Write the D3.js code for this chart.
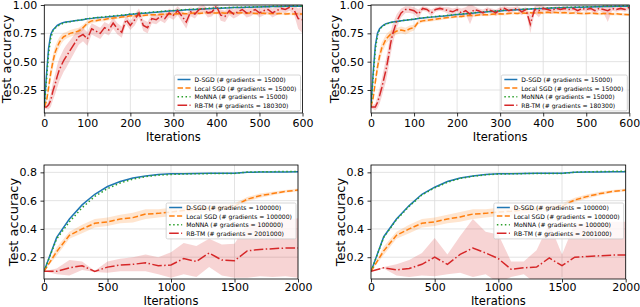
<!DOCTYPE html>
<html>
<head>
<meta charset="utf-8">
<script src="https://cdn.jsdelivr.net/npm/d3@7"></script>
<style>
  body { margin: 0; background: #fff; }
  text { font-family: "DejaVu Sans", sans-serif; }
</style>
</head>
<body>
<svg id="chart" width="640" height="307"></svg>
<script>
// ---- data ----
const seriesNames = ["D-SGD", "Local SGD", "MoNNA", "RB-TM"];
const topGradients = ["15000", "15000", "15000", "180300"];
const botGradients = ["100000", "100000", "100000", "2001000"];

const topIters = [0,5,10,15,20,25,30,35,40,45,50,
  60,70,80,90,100,110,120,130,140,150,160,
  170,180,190,200,210,220,230,240,250,260,270,
  280,290,300,310,320,330,340,350,360,370,380,
  390,400,410,420,430,440,450,460,470,480,490,
  500,510,520,530,540,550,560,570,580,590,600];

// top-left panel
const tlDsgd = [0.10,0.38,0.62,0.74,0.78,0.80,0.82,0.83,0.84,0.845,0.85,
  0.855,0.86,0.865,0.87,0.878,0.882,0.887,0.89,0.893,0.897,0.90,
  0.904,0.908,0.912,0.918,0.92,0.924,0.927,0.93,0.934,0.937,0.94,
  0.943,0.946,0.95,0.952,0.954,0.957,0.959,0.961,0.963,0.965,0.967,
  0.969,0.971,0.972,0.974,0.975,0.977,0.978,0.979,0.98,0.981,0.982,
  0.983,0.984,0.985,0.986,0.986,0.987,0.988,0.988,0.989,0.99,0.99];
const tlMonna = [0.10,0.33,0.57,0.71,0.77,0.795,0.81,0.822,0.832,0.84,0.846,
  0.853,0.86,0.866,0.872,0.879,0.884,0.889,0.892,0.896,0.9,0.903,
  0.907,0.911,0.915,0.92,0.923,0.927,0.93,0.933,0.937,0.94,0.943,
  0.946,0.949,0.952,0.955,0.957,0.96,0.962,0.964,0.966,0.968,0.97,
  0.972,0.973,0.975,0.976,0.978,0.979,0.98,0.981,0.982,0.983,0.984,
  0.985,0.986,0.987,0.988,0.988,0.989,0.99,0.99,0.991,0.992,0.992];
const tlLocal = [0.10,0.15,0.27,0.40,0.50,0.58,0.63,0.67,0.70,0.72,0.73,
  0.75,0.76,0.77,0.80,0.84,0.86,0.862,0.87,0.872,0.88,0.885,
  0.888,0.895,0.898,0.905,0.903,0.91,0.908,0.912,0.915,0.913,0.917,
  0.92,0.918,0.92,0.923,0.925,0.922,0.927,0.93,0.926,0.93,0.932,
  0.929,0.93,0.933,0.928,0.931,0.927,0.93,0.932,0.927,0.93,0.925,
  0.926,0.928,0.924,0.925,0.923,0.925,0.921,0.923,0.92,0.922,0.92];
const tlLocalStd = [0,0.03,0.05,0.06,0.06,0.055,0.05,0.045,0.04,0.035,0.03,
  0.03,0.03,0.03,0.025,0.02,0.018,0.015,0.015,0.015,0.015,0.015,
  0.012,0.012,0.012,0.012,0.012,0.012,0.012,0.012,0.012,0.012,0.012,
  0.012,0.012,0.012,0.012,0.012,0.012,0.012,0.012,0.012,0.012,0.012,
  0.012,0.012,0.012,0.012,0.012,0.012,0.012,0.012,0.012,0.012,0.012,
  0.012,0.012,0.012,0.012,0.012,0.012,0.012,0.012,0.012,0.012,0.012];
const tlRbtm = [0.10,0.10,0.12,0.16,0.24,0.30,0.37,0.43,0.47,0.51,0.54,
  0.60,0.66,0.72,0.74,0.70,0.79,0.77,0.75,0.80,0.78,0.84,
  0.79,0.76,0.87,0.82,0.87,0.93,0.82,0.80,0.88,0.87,0.90,
  0.88,0.93,0.91,0.95,0.90,0.85,0.94,0.92,0.96,0.97,0.93,
  0.94,0.99,0.91,0.90,0.95,0.92,0.94,0.96,0.93,0.94,0.96,
  0.93,0.95,0.96,0.93,0.95,0.97,0.96,0.98,0.96,0.88,0.87];
const tlRbtmStd = [0.01,0.02,0.04,0.06,0.08,0.09,0.10,0.10,0.10,0.10,0.10,
  0.09,0.08,0.07,0.06,0.06,0.05,0.05,0.05,0.05,0.05,0.05,
  0.05,0.05,0.04,0.04,0.05,0.04,0.05,0.05,0.04,0.04,0.04,
  0.04,0.04,0.04,0.04,0.05,0.06,0.04,0.04,0.03,0.03,0.04,
  0.04,0.03,0.05,0.05,0.04,0.04,0.04,0.03,0.04,0.04,0.03,
  0.04,0.04,0.03,0.04,0.04,0.03,0.03,0.03,0.04,0.09,0.12];

// top-right panel
const trDsgd = [0.10,0.40,0.64,0.75,0.79,0.81,0.825,0.835,0.84,0.845,0.85,
  0.855,0.86,0.865,0.87,0.875,0.88,0.885,0.89,0.893,0.896,0.90,
  0.903,0.907,0.911,0.916,0.919,0.922,0.926,0.93,0.933,0.936,0.94,
  0.942,0.945,0.948,0.951,0.953,0.956,0.958,0.96,0.962,0.964,0.966,
  0.968,0.97,0.971,0.973,0.974,0.976,0.977,0.978,0.979,0.98,0.981,
  0.982,0.983,0.984,0.985,0.986,0.986,0.987,0.988,0.988,0.989,0.99];
const trMonna = [0.10,0.36,0.60,0.73,0.78,0.805,0.82,0.83,0.838,0.843,0.848,
  0.854,0.86,0.866,0.871,0.877,0.882,0.887,0.891,0.895,0.898,0.902,
  0.905,0.909,0.913,0.918,0.921,0.925,0.928,0.932,0.935,0.938,0.942,
  0.944,0.947,0.95,0.953,0.955,0.958,0.96,0.962,0.964,0.966,0.968,
  0.97,0.972,0.973,0.975,0.976,0.978,0.979,0.98,0.981,0.982,0.983,
  0.984,0.985,0.986,0.987,0.988,0.988,0.989,0.99,0.99,0.991,0.992];
const trLocal = [0.10,0.18,0.32,0.45,0.55,0.62,0.66,0.70,0.72,0.74,0.75,
  0.77,0.78,0.77,0.79,0.80,0.85,0.86,0.865,0.87,0.875,0.88,
  0.885,0.89,0.893,0.90,0.898,0.905,0.91,0.907,0.912,0.915,0.913,
  0.918,0.92,0.922,0.92,0.925,0.928,0.926,0.93,0.928,0.932,0.93,
  0.933,0.93,0.935,0.932,0.934,0.93,0.933,0.928,0.93,0.927,0.925,
  0.925,0.928,0.925,0.922,0.924,0.925,0.92,0.922,0.918,0.917,0.915];
const trLocalStd = [0,0.03,0.05,0.06,0.06,0.05,0.045,0.04,0.04,0.035,0.03,
  0.03,0.03,0.03,0.03,0.025,0.02,0.015,0.015,0.015,0.015,0.015,
  0.012,0.012,0.012,0.012,0.012,0.012,0.012,0.012,0.012,0.012,0.012,
  0.012,0.012,0.012,0.012,0.012,0.012,0.012,0.012,0.012,0.012,0.012,
  0.012,0.012,0.012,0.012,0.012,0.012,0.012,0.012,0.012,0.012,0.012,
  0.012,0.012,0.012,0.012,0.012,0.012,0.012,0.012,0.012,0.012,0.012];
const trRbtm = [0.10,0.10,0.10,0.14,0.20,0.27,0.35,0.43,0.53,0.65,0.74,
  0.86,0.93,0.96,0.96,0.95,0.92,0.97,0.96,0.93,0.96,0.97,
  0.96,0.95,0.94,0.96,0.93,0.95,0.92,0.96,0.95,0.93,0.96,
  0.95,0.93,0.96,0.97,0.95,0.96,0.97,0.94,0.96,0.83,0.96,
  0.95,0.97,0.96,0.95,0.97,0.96,0.97,0.96,0.97,0.95,0.97,
  0.96,0.97,0.95,0.97,0.96,0.95,0.97,0.96,0.97,0.96,0.98];
const trRbtmStd = [0.01,0.02,0.03,0.05,0.07,0.08,0.09,0.10,0.10,0.10,0.09,
  0.06,0.04,0.03,0.03,0.03,0.04,0.02,0.02,0.03,0.02,0.02,
  0.02,0.03,0.03,0.02,0.04,0.03,0.09,0.03,0.02,0.03,0.02,
  0.02,0.03,0.02,0.02,0.03,0.02,0.02,0.03,0.02,0.08,0.03,
  0.06,0.02,0.02,0.03,0.02,0.02,0.02,0.02,0.02,0.03,0.02,
  0.02,0.02,0.03,0.02,0.03,0.10,0.02,0.02,0.02,0.02,0.02];

// bottom panels
const botIters = [0,100,200,300,400,500,600,700,800,900,1000,
  1100,1200,1300,1400,1500,1600,1700,1800,1900,2000];

const blDsgd = [0.10,0.34,0.47,0.57,0.645,0.70,0.735,0.76,0.775,0.785,0.79,0.79,0.792,0.793,0.793,0.793,0.80,0.802,0.803,0.803,0.804];
const blMonna = [0.10,0.33,0.45,0.55,0.63,0.685,0.725,0.752,0.77,0.78,0.785,0.788,0.79,0.791,0.792,0.792,0.802,0.804,0.805,0.806,0.806];
const blLocal = [0.10,0.24,0.355,0.40,0.44,0.45,0.47,0.48,0.505,0.51,0.52,0.53,0.54,0.545,0.55,0.56,0.61,0.635,0.65,0.665,0.675];
const blLocalStd = [0,0.03,0.025,0.03,0.03,0.03,0.03,0.035,0.035,0.03,0.03,0.03,0.025,0.025,0.02,0.02,0.015,0.015,0.012,0.01,0.01];
const blRbtm = [0.10,0.10,0.125,0.14,0.10,0.13,0.145,0.15,0.16,0.14,0.145,0.19,0.17,0.23,0.18,0.175,0.245,0.255,0.26,0.265,0.265];
const blRbtmStd = [0,0.02,0.055,0.03,0.005,0.04,0.045,0.05,0.06,0.06,0.09,0.11,0.11,0.1,0.11,0.12,0.19,0.19,0.2,0.2,0.21];

const brDsgd = [0.10,0.345,0.47,0.565,0.645,0.695,0.735,0.76,0.775,0.785,0.79,0.79,0.792,0.793,0.793,0.793,0.80,0.802,0.803,0.804,0.805];
const brMonna = [0.10,0.34,0.465,0.56,0.64,0.69,0.73,0.757,0.772,0.783,0.788,0.79,0.791,0.792,0.792,0.792,0.801,0.804,0.806,0.807,0.808];
const brLocal = [0.10,0.245,0.355,0.40,0.44,0.45,0.47,0.485,0.505,0.51,0.52,0.525,0.535,0.54,0.55,0.56,0.605,0.63,0.65,0.665,0.675];
const brLocalStd = [0,0.03,0.025,0.03,0.03,0.03,0.03,0.035,0.035,0.03,0.03,0.03,0.025,0.025,0.02,0.02,0.015,0.015,0.012,0.01,0.01];
const brRbtm = [0.10,0.125,0.11,0.12,0.15,0.20,0.15,0.22,0.265,0.23,0.19,0.115,0.125,0.13,0.195,0.14,0.2,0.205,0.21,0.215,0.215];
const brRbtmStd = [0,0.005,0.04,0.06,0.08,0.135,0.07,0.13,0.205,0.15,0.17,0.055,0.045,0.12,0.245,0.08,0.24,0.235,0.23,0.235,0.235];

const topXTicks = [0,100,200,300,400,500,600];
const topYTicks = [0.25,0.5,0.75,1.0];
const botXTicks = [0,500,1000,1500,2000];
const botYTicks = [0.2,0.4,0.6,0.8];

// ---- styles ----
const colors = ["#1f77b4", "#ff7f0e", "#2ca02c", "#d62728"];
const dashes = [null, "5.5,2.4", "1.5,2.5", "9.6,2.4,1.5,2.4"];

const svg = d3.select("#chart");

function drawPanel(p) {
  const x = d3.scaleLinear().domain(p.xDomain).range([p.left, p.right]);
  const y = d3.scaleLinear().domain(p.yDomain).range([p.bottom, p.top]);
  const g = svg.append("g");

  // grid
  g.append("g").selectAll("line").data(p.xTicks).join("line")
    .attr("x1", d => x(d)).attr("x2", d => x(d))
    .attr("y1", p.top).attr("y2", p.bottom)
    .attr("stroke", "#dcdcdc").attr("stroke-width", 0.8);
  g.append("g").selectAll("line").data(p.yTicks).join("line")
    .attr("x1", p.left).attr("x2", p.right)
    .attr("y1", d => y(d)).attr("y2", d => y(d))
    .attr("stroke", "#dcdcdc").attr("stroke-width", 0.8);

  const clipId = "clip" + p.id;
  svg.append("clipPath").attr("id", clipId).append("rect")
    .attr("x", p.left).attr("y", p.top)
    .attr("width", p.right - p.left).attr("height", p.bottom - p.top);
  const plot = g.append("g").attr("clip-path", `url(#${clipId})`);

  // shaded bands (mean +/- spread)
  p.series.forEach((s, i) => {
    if (!s.std) return;
    const area = d3.area()
      .x((d, j) => x(p.iters[j]))
      .y0((d, j) => y(s.values[j] - s.std[j]))
      .y1((d, j) => y(s.values[j] + s.std[j]));
    plot.append("path").datum(s.values)
      .attr("d", area)
      .attr("fill", colors[i]).attr("fill-opacity", 0.2);
  });

  // lines
  p.series.forEach((s, i) => {
    const line = d3.line()
      .x((d, j) => x(p.iters[j]))
      .y(d => y(d));
    plot.append("path").datum(s.values)
      .attr("d", line)
      .attr("fill", "none")
      .attr("stroke", colors[i])
      .attr("stroke-width", 1.5)
      .attr("stroke-dasharray", dashes[i]);
  });

  // axes
  const xAxis = g.append("g")
    .attr("transform", `translate(0,${p.bottom})`)
    .call(d3.axisBottom(x).tickValues(p.xTicks).tickSize(3.5).tickPadding(p.xTickPad).tickFormat(d3.format("d")));
  const yAxis = g.append("g")
    .attr("transform", `translate(${p.left},0)`)
    .call(d3.axisLeft(y).tickValues(p.yTicks).tickSize(3.5).tickPadding(3.5).tickFormat(d3.format(p.yFormat)));
  [xAxis, yAxis].forEach(a => {
    a.select(".domain").remove();
    a.selectAll(".tick line").attr("stroke", "#000").attr("stroke-width", 0.8);
    a.selectAll(".tick text").attr("font-size", 11).attr("fill", "#000")
      .style("font-family", "'DejaVu Sans', sans-serif");
  });

  // spines
  g.append("rect")
    .attr("x", p.left).attr("y", p.top)
    .attr("width", p.right - p.left).attr("height", p.bottom - p.top)
    .attr("fill", "none").attr("stroke", "#000").attr("stroke-width", 0.8);

  // axis labels
  g.append("text")
    .attr("x", (p.left + p.right) / 2).attr("y", p.bottom + p.xLabelGap)
    .attr("text-anchor", "middle").attr("font-size", 11.5)
    .text("Iterations");
  g.append("text")
    .attr("transform", `translate(${p.left - p.yLabelGap},${(p.top + p.bottom) / 2}) rotate(-90)`)
    .attr("text-anchor", "middle").attr("dominant-baseline", "central")
    .attr("font-size", 13)
    .text("Test accuracy");

  // legend
  const lg = g.append("g");
  const box = lg.append("rect");
  const rowH = 8.6;
  const items = lg.selectAll("g.item").data(p.series).join("g")
    .attr("class", "item");
  items.append("line")
    .attr("x1", 0).attr("x2", 13).attr("y1", 0).attr("y2", 0)
    .attr("stroke", (d, i) => colors[i]).attr("stroke-width", 1.5)
    .attr("stroke-dasharray", (d, i) => dashes[i]);
  const texts = items.append("text")
    .attr("x", 17).attr("dominant-baseline", "central")
    .attr("font-size", 6.1)
    .text(d => d.label);
  const maxW = d3.max(texts.nodes(), n => n.getComputedTextLength());
  const boxW = 17 + maxW + 7;
  const boxRight = p.right - 2;
  const boxLeft = boxRight - boxW;
  items.attr("transform", (d, i) => `translate(${boxLeft + 3},${p.legendTop + 4.5 + i * rowH})`);
  box.attr("x", boxLeft).attr("y", p.legendTop)
    .attr("width", boxW).attr("height", 4 * rowH + 1.5)
    .attr("rx", 1.5)
    .attr("fill", "#fff").attr("fill-opacity", 0.8)
    .attr("stroke", "#ccc").attr("stroke-width", 0.8);
}

function makeSeries(vals, stds, grads) {
  return seriesNames.map((n, i) => ({
    label: `${n} (# gradients = ${grads[i]})`,
    values: vals[i],
    std: stds[i]
  }));
}

drawPanel({
  id: "tl", left: 44.3, right: 302.5, top: 5, bottom: 113,
  xDomain: [0, 600], yDomain: [0.047, 1.0],
  xTicks: topXTicks, yTicks: topYTicks, yFormat: ".2f", yLabelGap: 37.5,
  xTickPad: 2.5, xLabelGap: 27.5,
  iters: topIters, legendTop: 75,
  series: makeSeries([tlDsgd, tlLocal, tlMonna, tlRbtm], [null, tlLocalStd, null, tlRbtmStd], topGradients)
});
drawPanel({
  id: "tr", left: 371, right: 629.3, top: 5, bottom: 113,
  xDomain: [0, 600], yDomain: [0.047, 1.0],
  xTicks: topXTicks, yTicks: topYTicks, yFormat: ".2f", yLabelGap: 37,
  xTickPad: 2.5, xLabelGap: 27.5,
  iters: topIters, legendTop: 75,
  series: makeSeries([trDsgd, trLocal, trMonna, trRbtm], [null, trLocalStd, null, trRbtmStd], topGradients)
});
drawPanel({
  id: "bl", left: 44, right: 298, top: 165, bottom: 279,
  xDomain: [0, 2000], yDomain: [0.046, 0.852],
  xTicks: botXTicks, yTicks: botYTicks, yFormat: ".1f", yLabelGap: 31,
  xTickPad: 1, xLabelGap: 26,
  iters: botIters, legendTop: 203,
  series: makeSeries([blDsgd, blLocal, blMonna, blRbtm], [null, blLocalStd, null, blRbtmStd], botGradients)
});
drawPanel({
  id: "br", left: 371, right: 625.7, top: 165, bottom: 279,
  xDomain: [0, 2000], yDomain: [0.046, 0.852],
  xTicks: botXTicks, yTicks: botYTicks, yFormat: ".1f", yLabelGap: 31,
  xTickPad: 1, xLabelGap: 26,
  iters: botIters, legendTop: 203,
  series: makeSeries([brDsgd, brLocal, brMonna, brRbtm], [null, brLocalStd, null, brRbtmStd], botGradients)
});
</script>
</body>
</html>
